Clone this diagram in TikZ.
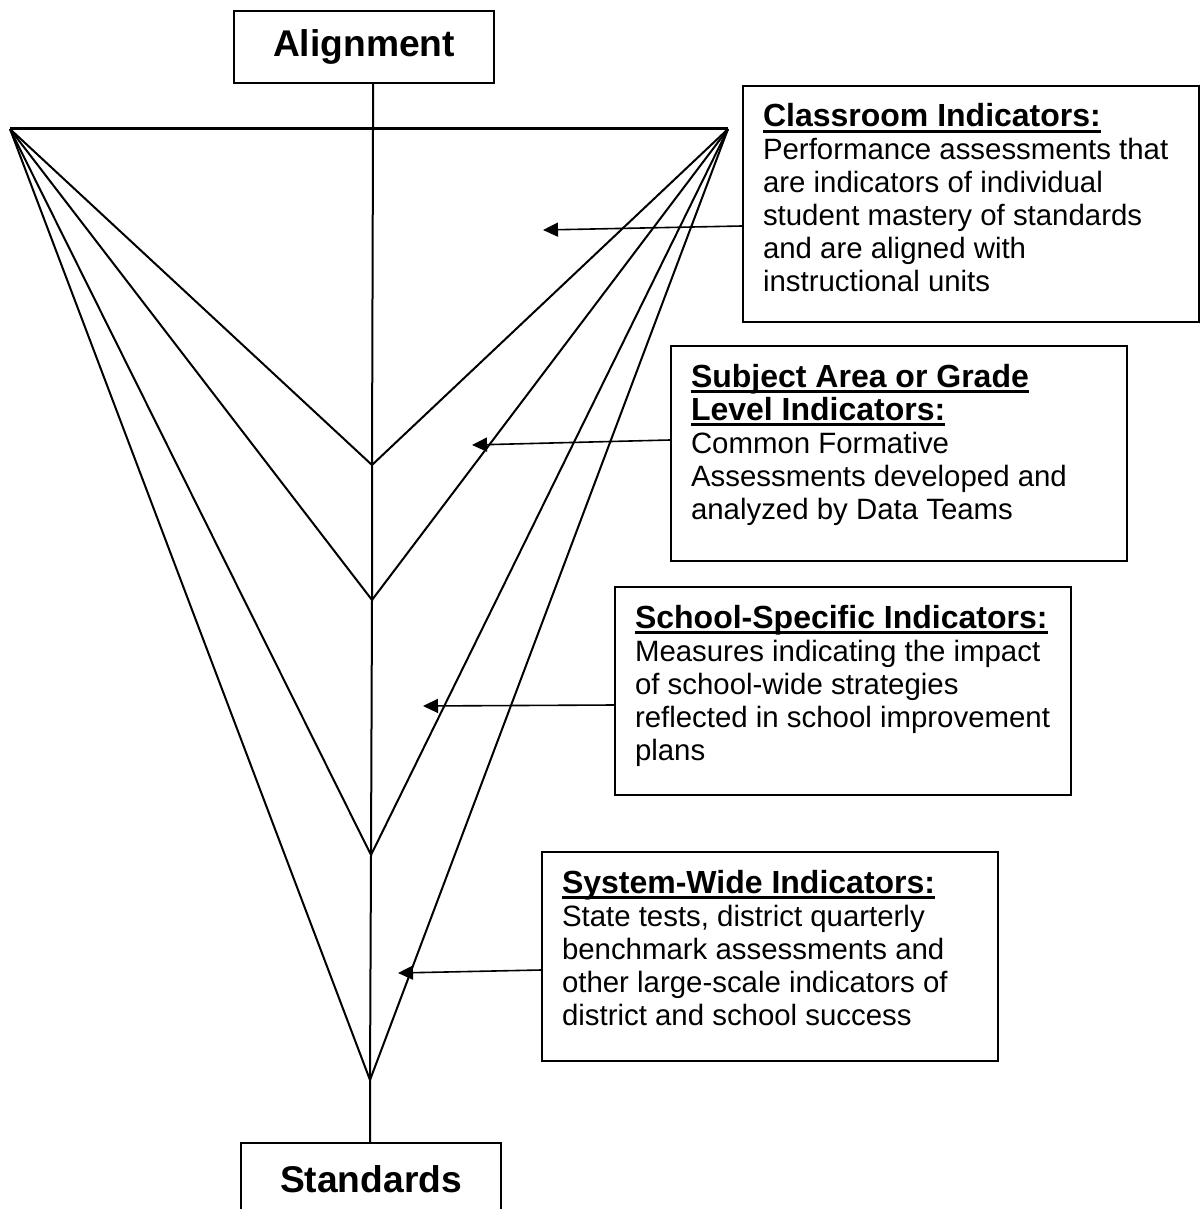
\documentclass[tikz,border=0pt]{standalone}
\usepackage{fontspec}
\setmainfont{Liberation Sans}
\usetikzlibrary{arrows.meta,calc}

\newcommand\hd[1]{\leavevmode{\fontsize{16}{16.5}\selectfont\bfseries\setbox0\hbox{#1}\rlap{\rule[-3pt]{\wd0}{1.5pt}}\box0}}
\newcommand\boxtext[2]{\parbox[t][#1][t]{208pt}{\raggedright\fontsize{14.7}{16.5}\selectfont\rule{0pt}{20.5pt}#2}}

\begin{document}
\begin{tikzpicture}[x=0.5pt,y=-0.5pt,
  ind/.style={draw,line width=1pt,anchor=north west,inner xsep=10pt,inner ysep=0pt},
  title/.style={draw,line width=1pt,anchor=north west,minimum width=130pt,minimum height=36pt,
    inner sep=0pt,font=\fontsize{18.6}{20}\selectfont\bfseries},
  fan/.style={line width=1pt},
  pointer/.style={line width=0.8pt,-{Triangle[length=7.5pt,width=7pt]}}]
\clip (0,0) rectangle (1200,1209);
\node[title] (align) at (233,10) {Alignment};
\node[title] (std) at (240,1142) {Standards};
\coordinate (lft) at (10,129);
\coordinate (rgt) at (728,129);
\coordinate (top) at (373,129);
\coordinate (v1) at (372,465);
\coordinate (v2) at (372,600);
\coordinate (v3) at (371,855);
\coordinate (v4) at (370,1080);
\draw[line width=1.5pt] (lft) -- (rgt);
\draw[fan] (align.south -| top) -- (top) -- (v1) -- (v2) -- (v3) -- (v4) -- (std.north -| v4);
\foreach \v in {v1,v2,v3,v4}
  \draw[fan] (lft) -- (\v) -- (rgt);
\node[ind] (cls) at (742,85) {\boxtext{118pt}{\hd{Classroom Indicators:}\\
  Performance assessments that\\ are indicators of individual\\
  student mastery of standards\\ and are aligned with\\ instructional units}};
\node[ind] (subj) at (670,345) {\boxtext{107.5pt}{\hd{Subject Area or Grade}\\
  \hd{Level Indicators:}\\ Common Formative\\
  Assessments developed and\\ analyzed by Data Teams}};
\node[ind] (sch) at (614,586) {\boxtext{104pt}{\hd{School-Specific Indicators:}\\
  Measures indicating the impact\\ of school-wide strategies\\
  reflected in school improvement\\ plans}};
\node[ind] (sys) at (541,851) {\boxtext{104.5pt}{\hd{System-Wide Indicators:}\\
  State tests, district quarterly\\ benchmark assessments and\\
  other large-scale indicators of\\ district and school success}};
\coordinate (t1) at (543,230);
\coordinate (t2) at (472,445);
\coordinate (t3) at (423,706);
\coordinate (t4) at (398,973);
\draw[pointer] ($(cls.north west)+(0,141)$) -- (t1);
\draw[pointer] ($(subj.north west)+(0,95)$) -- (t2);
\draw[pointer] ($(sch.north west)+(0,119)$) -- (t3);
\draw[pointer] ($(sys.north west)+(0,119)$) -- (t4);
\end{tikzpicture}
\end{document}
